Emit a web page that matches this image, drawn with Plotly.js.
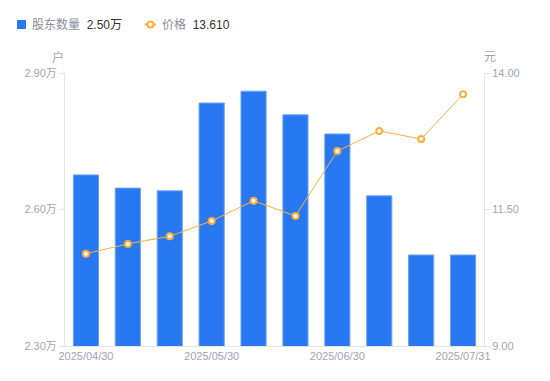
<!DOCTYPE html>
<html><head><meta charset="utf-8">
<script src="https://cdn.plot.ly/plotly-3.0.1.min.js"></script>
<style>html,body{margin:0;padding:0;background:#fff}#c{width:550px;height:381px}</style>
</head><body><div id="c"></div>
<script>
const dates = ['2025/04/30','2025/05/09','2025/05/20','2025/05/30','2025/06/10','2025/06/20','2025/06/30','2025/07/10','2025/07/20','2025/07/31'];
const holders = [2.676, 2.647, 2.641, 2.834, 2.860, 2.808, 2.766, 2.630, 2.500, 2.500]; // 万户
const prices = [10.69, 10.87, 11.01, 11.29, 11.66, 11.38, 12.57, 12.94, 12.79, 13.61];
const xTicks = ['2025/04/30','2025/05/30','2025/06/30','2025/07/31'];
const leftTicks = [2.3, 2.6, 2.9];
const rightTicks = [9, 11.5, 14];
const holderName = '股东数量';
const priceName = '价格';

const blue = '#2878f2', orange = '#fbb03b', tickColor = '#a3a3b3', axisColor = '#e3e3e8';
const font = '"Liberation Sans", Arial, "Noto Sans CJK SC", sans-serif';

const traces = [
  {type:'bar', x:dates, y:holders, name:holderName, yaxis:'y',
   marker:{color:blue, line:{color:'#6aa3f7', width:1}}, hoverinfo:'skip'},
  {type:'scatter', mode:'lines+markers', x:dates, y:prices, name:priceName, yaxis:'y2',
   line:{color:orange, width:1}, marker:{symbol:'circle', size:6, color:'#fff', line:{color:orange, width:2}}, hoverinfo:'skip'}
];

const lastH = holders[holders.length-1].toFixed(2) + '万';
const lastP = prices[prices.length-1].toFixed(3);

const W = 550-65-66, H = 381-73-35;
const px = x => (x-65)/W, py = y => (381-35-y)/H;

const layout = {
  width:550, height:381, margin:{l:65, r:66, t:73, b:35},
  paper_bgcolor:'#fff', plot_bgcolor:'#fff', showlegend:false, bargap:0.4,
  font:{family:font, size:11, color:tickColor},
  xaxis:{type:'category', range:[-0.5, dates.length-0.5], tickvals:xTicks, ticktext:xTicks, showgrid:false, zeroline:false,
    showline:true, linecolor:axisColor, linewidth:1, ticks:'', tickfont:{size:11, color:tickColor}},
  yaxis:{range:[2.3,2.9], tickvals:leftTicks, ticktext:leftTicks.map(v=>v.toFixed(2)+'万'),
    showgrid:false, zeroline:false, showline:true, linecolor:axisColor, linewidth:1,
    ticks:'outside', ticklen:5, tickcolor:axisColor, tickfont:{size:11, color:tickColor}},
  yaxis2:{range:[9,14], overlaying:'y', side:'right', tickvals:rightTicks, ticktext:rightTicks.map(v=>v.toFixed(2)),
    showgrid:false, zeroline:false, showline:true, linecolor:axisColor, linewidth:1,
    ticks:'outside', ticklen:5, tickcolor:axisColor, tickfont:{size:11, color:tickColor}},
  shapes:[
    {type:'rect', xref:'paper', yref:'paper', x0:px(17), x1:px(26), y0:py(29), y1:py(20), fillcolor:blue, line:{width:0}},
    {type:'line', xref:'paper', yref:'paper', x0:px(145), x1:px(156), y0:py(24.5), y1:py(24.5), line:{color:orange, width:2}},
    {type:'circle', xref:'paper', yref:'paper', x0:px(147.5), x1:px(153.5), y0:py(27.5), y1:py(21.5), fillcolor:'#fff', line:{color:orange, width:2}}
  ],
  annotations:[
    {xref:'paper', yref:'paper', x:px(58), y:py(57), xanchor:'center', yanchor:'middle', text:'户', showarrow:false, font:{size:12, color:tickColor}},
    {xref:'paper', yref:'paper', x:px(490), y:py(57), xanchor:'center', yanchor:'middle', text:'元', showarrow:false, font:{size:12, color:tickColor}},
    {xref:'paper', yref:'paper', x:px(30), y:py(24.5), xanchor:'left', yanchor:'middle', showarrow:false,
     text:'<span style="color:#8c8c99">'+holderName+'</span>  <span style="color:#333">'+lastH+'</span>', font:{size:12}},
    {xref:'paper', yref:'paper', x:px(160), y:py(24.5), xanchor:'left', yanchor:'middle', showarrow:false,
     text:'<span style="color:#8c8c99">'+priceName+'</span>  <span style="color:#333">'+lastP+'</span>', font:{size:12}}
  ]
};
Plotly.newPlot('c', traces, layout, {staticPlot:true, displayModeBar:false});
</script></body></html>
